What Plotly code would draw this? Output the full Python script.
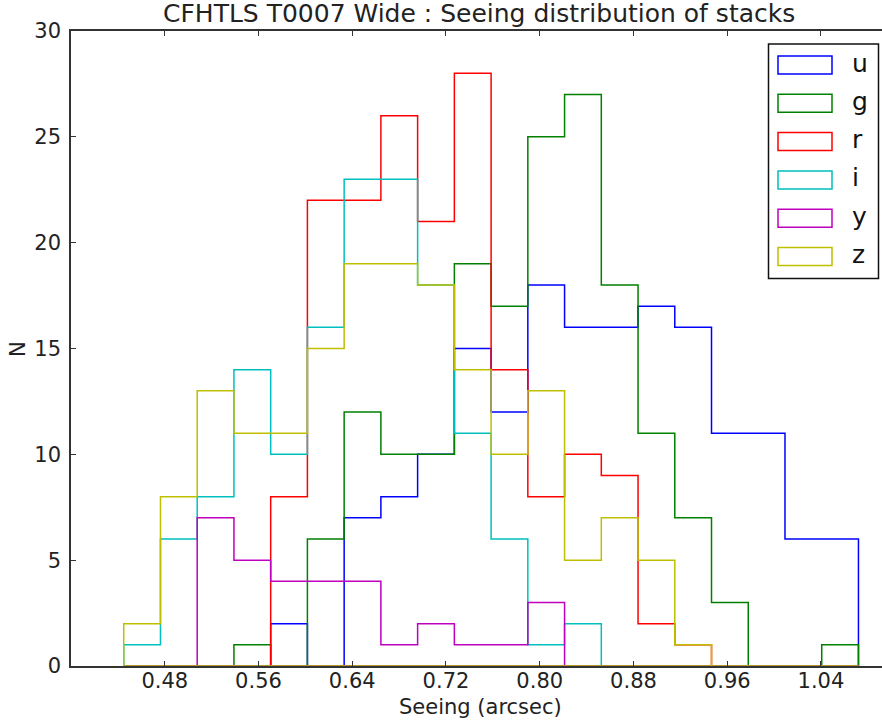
import numpy as np
import plotly.graph_objects as go

# Seeing histograms of CFHTLS T0007 Wide stacks, one per filter (20 common bins)
bin_start = 0.445
bin_width = 0.03135
n_bins = 20

filters = ["u", "g", "r", "i", "y", "z"]
colors = ["#0000ff", "#008000", "#ff0000", "#00bfbf", "#bf00bf", "#bfbf00"]

counts_u = [0, 0, 0, 0, 2, 0, 7, 8, 10, 15, 12, 18, 16, 16, 17, 16, 11, 11, 6, 6]
counts_g = [0, 0, 0, 1, 0, 6, 12, 10, 10, 19, 17, 25, 27, 18, 11, 7, 3, 0, 0, 1]
counts_r = [0, 0, 0, 0, 8, 22, 22, 26, 21, 28, 14, 8, 10, 9, 2, 1, 0, 0, 0, 0]
counts_i = [1, 6, 8, 14, 10, 16, 23, 23, 18, 11, 6, 1, 2, 0, 0, 0, 0, 0, 0, 0]
counts_y = [0, 0, 7, 5, 4, 4, 4, 1, 2, 1, 1, 3, 0, 0, 0, 0, 0, 0, 0, 0]
counts_z = [2, 8, 13, 11, 11, 15, 19, 19, 18, 14, 10, 13, 5, 7, 5, 1, 0, 0, 0, 0]

all_counts = [counts_u, counts_g, counts_r, counts_i, counts_y, counts_z]

x_ticks = [0.48, 0.56, 0.64, 0.72, 0.80, 0.88, 0.96, 1.04]
x_tick_labels = ["0.48", "0.56", "0.64", "0.72", "0.80", "0.88", "0.96", "1.04"]
y_ticks = [0, 5, 10, 15, 20, 25, 30]

edges = bin_start + bin_width * np.arange(n_bins + 1)

FONT = "DejaVu Sans"
W, H = 882, 723
PL, PR, PT, PB = 71, 882, 31, 666


def px(x):
    return (x - PL) / (PR - PL)


def py(y):
    return (PB - y) / (PB - PT)


def step_outline(counts):
    """Closed step outline of a histogram, like histtype='step'."""
    xs, ys = [edges[0]], [0]
    for k, c in enumerate(counts):
        xs += [edges[k], edges[k + 1]]
        ys += [c, c]
    xs += [edges[-1], edges[0]]
    ys += [0, 0]
    return xs, ys


fig = go.Figure()
for name, col, cnt in zip(filters, colors, all_counts):
    xs, ys = step_outline(cnt)
    fig.add_trace(go.Scatter(
        x=xs, y=ys, mode="lines", name=name,
        line=dict(color=col, width=1.5), showlegend=False,
        hoverinfo="skip",
    ))

axis_common = dict(
    showgrid=False, zeroline=False, showline=True,
    linecolor="#333333", linewidth=1.5,
    ticks="inside", ticklen=5, tickwidth=1, tickcolor="#333333",
    tickfont=dict(family=FONT, size=21, color="#222222"),
)

fig.update_xaxes(
    range=[0.40, 0.48 + (PR - 165) / 1171.4],
    tickvals=x_ticks, ticktext=x_tick_labels,
    mirror="ticks", ticklabelstandoff=-5,
    **axis_common,
)
fig.update_yaxes(
    range=[0, 30], tickvals=y_ticks, ticktext=[str(v) for v in y_ticks],
    mirror=False, ticklabelstandoff=4,
    **axis_common,
)

annotations = [
    dict(text="CFHTLS T0007 Wide : Seeing distribution of stacks",
         x=px(479), y=py(14), xref="paper", yref="paper",
         xanchor="center", yanchor="middle", showarrow=False,
         font=dict(family=FONT, size=25, color="#222222")),
    dict(text="Seeing (arcsec)",
         x=px(480), y=py(707), xref="paper", yref="paper",
         xanchor="center", yanchor="middle", showarrow=False,
         font=dict(family=FONT, size=21, color="#222222")),
    dict(text="N", textangle=-90,
         x=px(18), y=py(349), xref="paper", yref="paper",
         xanchor="center", yanchor="middle", showarrow=False,
         font=dict(family=FONT, size=21, color="#222222")),
]

# Legend drawn as a framed box with outlined patches
shapes = [dict(type="rect", xref="paper", yref="paper",
               x0=px(768.5), x1=px(878.5), y0=py(278.5), y1=py(44),
               line=dict(color="#111111", width=1.5), fillcolor="white",
               layer="above")]
leg_y0, leg_dy = 65, 38.3
for k, (name, col) in enumerate(zip(filters, colors)):
    yc = leg_y0 + k * leg_dy
    shapes.append(dict(type="rect", xref="paper", yref="paper",
                       x0=px(778), x1=px(832), y0=py(yc + 9), y1=py(yc - 9),
                       line=dict(color=col, width=1.5), fillcolor="rgba(0,0,0,0)",
                       layer="above"))
    annotations.append(dict(text=name, x=px(850), y=py(yc - 2),
                            xref="paper", yref="paper",
                            xanchor="left", yanchor="middle", showarrow=False,
                            font=dict(family=FONT, size=25, color="#111111")))

fig.update_layout(
    width=W, height=H,
    margin=dict(l=PL, r=W - PR, t=PT, b=H - PB),
    paper_bgcolor="white", plot_bgcolor="white",
    shapes=shapes, annotations=annotations, showlegend=False,
)

fig.write_html("out.html")
